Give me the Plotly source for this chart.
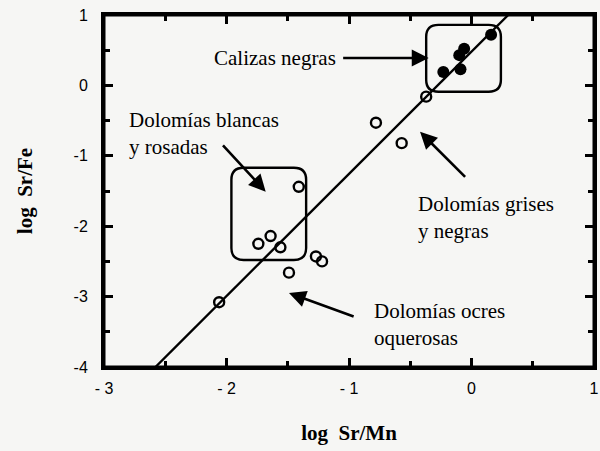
import plotly.graph_objects as go

# Open circles (dolomías)
open_x = [-2.06, -1.41, -1.64, -1.74, -1.56, -1.27, -1.22, -1.49, -0.78, -0.57, -0.37]
open_y = [-3.08, -1.44, -2.14, -2.25, -2.30, -2.43, -2.50, -2.66, -0.53, -0.82, -0.16]
# Filled circles (calizas negras)
fill_x = [0.16, -0.06, -0.10, -0.09, -0.23]
fill_y = [0.72, 0.52, 0.43, 0.23, 0.19]
# Regression line end points
line_x = [-2.58, 0.30]
line_y = [-4.0, 1.0]

x_ticks = [-3, -2, -1, 0, 1]
x_tick_text = ["- 3", "- 2", "- 1", "0", "1"]
y_ticks = [-4, -3, -2, -1, 0, 1]
y_tick_text = ["-4", "-3", "-2", "-1", "0", "1"]

SERIF = "Liberation Serif, Times New Roman, serif"
SANS = "Liberation Sans, Arial, sans-serif"

fig = go.Figure()
fig.add_trace(go.Scatter(x=line_x, y=line_y, mode="lines",
                         line=dict(color="black", width=2.4), showlegend=False))
fig.add_trace(go.Scatter(x=open_x, y=open_y, mode="markers",
                         marker=dict(symbol="circle-open", size=10, color="black",
                                     line=dict(width=2.4)), showlegend=False))
fig.add_trace(go.Scatter(x=fill_x, y=fill_y, mode="markers",
                         marker=dict(symbol="circle", size=12, color="black"),
                         showlegend=False))


def rounded_rect(x0, y0, x1, y1, rx, ry):
    return (f"M {x0+rx},{y0} L {x1-rx},{y0} Q {x1},{y0} {x1},{y0+ry} "
            f"L {x1},{y1-ry} Q {x1},{y1} {x1-rx},{y1} L {x0+rx},{y1} "
            f"Q {x0},{y1} {x0},{y1-ry} L {x0},{y0+ry} Q {x0},{y0} {x0+rx},{y0} Z")


fig.add_shape(type="path", path=rounded_rect(-0.37, -0.09, 0.24, 0.86, 0.1, 0.17),
              line=dict(color="black", width=2.4), xref="x", yref="y")
fig.add_shape(type="path", path=rounded_rect(-1.96, -2.48, -1.35, -1.17, 0.1, 0.17),
              line=dict(color="black", width=2.4), xref="x", yref="y")
# plot frame
fig.add_shape(type="rect", xref="paper", yref="paper", x0=0, x1=1, y0=0, y1=1,
              line=dict(color="black", width=3), layer="above")

# arrows: (head), (tail)
arrows = [
    ((-0.35, 0.39), (-1.06, 0.39)),
    ((-1.68, -1.51), (-2.04, -0.83)),
    ((-0.42, -0.66), (-0.04, -1.32)),
    ((-1.49, -2.95), (-0.95, -3.29)),
]
for (hx, hy), (tx, ty) in arrows:
    fig.add_annotation(x=hx, y=hy, ax=tx, ay=ty, xref="x", yref="y",
                       axref="x", ayref="y", text="", showarrow=True,
                       arrowhead=2, arrowsize=1.3, arrowwidth=2.6, arrowcolor="black")

texts = [
    (-1.09, 0.39, "Calizas negras", "right"),
    (-2.81, -0.68, "Dolomías blancas<br>y rosadas", "left"),
    (-0.45, -1.87, "Dolomías grises<br>y negras", "left"),
    (-0.81, -3.40, "Dolomías ocres<br>oquerosas", "left"),
]
for x, y, t, anc in texts:
    fig.add_annotation(x=x, y=y, xref="x", yref="y", text=t, showarrow=False,
                       xanchor=anc, yanchor="middle", align="left",
                       font=dict(family=SERIF, size=21, color="black"))

axis_common = dict(showgrid=False, zeroline=False, showline=True, linecolor="black",
                   linewidth=3, mirror="allticks", ticks="inside", ticklen=9,
                   tickwidth=3, tickcolor="black", automargin=False,
                   ticklabeloverflow="allow",
                   tickfont=dict(family=SANS, size=16, color="black"))
fig.update_xaxes(range=[-3, 1], tickvals=x_ticks, ticktext=x_tick_text,
                 ticklabelstandoff=5,
                 minor=dict(ticks="inside", dtick=0.5, ticklen=6, tickwidth=2.5,
                            tickcolor="black"),
                 title=dict(text="log  Sr/Mn", standoff=30,
                            font=dict(family=SERIF, size=21, color="black", weight="bold")),
                 **axis_common)
fig.update_yaxes(range=[-4, 1], tickvals=y_ticks, ticktext=y_tick_text,
                 ticklabelstandoff=10,
                 minor=dict(ticks="inside", dtick=0.5, ticklen=6, tickwidth=2.5,
                            tickcolor="black"),
                 title=dict(text="log  Sr/Fe", standoff=36,
                            font=dict(family=SERIF, size=21, color="black", weight="bold")),
                 **axis_common)

fig.update_layout(width=600, height=451, margin=dict(l=104, r=6, t=15, b=84),
                  plot_bgcolor="#f6f6f4", paper_bgcolor="#f6f6f4")
fig.write_html("out.html", config={"displayModeBar": False},
               post_script="document.body.style.margin='0';"
                           "document.body.style.background='#f6f6f4';")
